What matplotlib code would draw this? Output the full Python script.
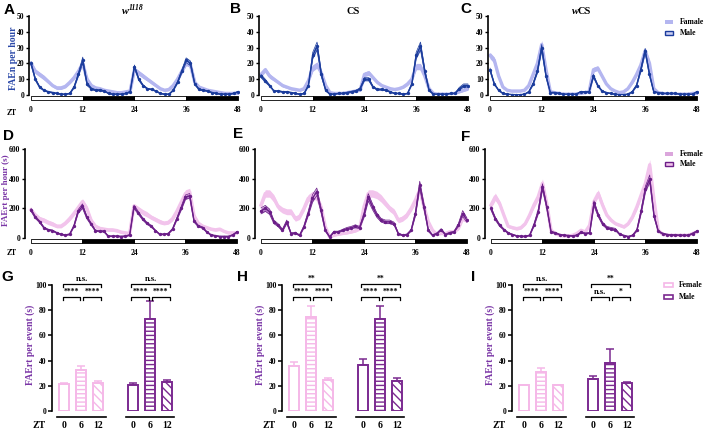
import matplotlib
matplotlib.use("Agg")
import matplotlib.pyplot as plt
from matplotlib.patches import Rectangle
import numpy as np

plt.rcParams['font.family'] = ['Liberation Serif', 'DejaVu Serif']
plt.rcParams['font.weight'] = 'bold'
plt.rcParams['hatch.linewidth'] = 1.0

# ---- data (hourly, ZT 0..48) ----
HOURS = list(range(49))
XTICKS = [0, 12, 24, 36, 48]

# FAEn per hour
A_F = [20,15,13,11,8.5,6,4.5,4.5,5.5,8,11,15,20,10,6,4.5,4,3,2.5,2,1.5,1.5,2,2.5,16,14,12,10,8,6,4,3,3.5,6,10,15,20,19,8,5,4,3,2.5,2,1.5,1,1,1,1]
A_F_SEM = [1.5,1.5,1.5,1.5,1.2,1,1,1,1,1,1.2,1.5,1.5,1.5,1,1,0.8,0.8,0.6,0.6,0.5,0.5,0.5,0.5,1.5,1.5,1.5,1.2,1.2,1,0.8,0.8,0.8,1,1.2,1.5,1.5,1.5,1.2,1,0.8,0.8,0.6,0.6,0.5,0.5,0.5,0.5,0.5]
A_M = [20,10,5,3,2,1.5,1,0.5,0.5,1,5,13,22,7,4,3,3,2.5,1,0.5,0.5,0.5,1,2,18,10,6,4,3.5,2.5,1,0.5,0.5,3,8,15,22,20,7,3.5,3,2.5,1.5,1,0.5,0.5,0.5,1,2]
A_M_SEM = [1,0.8,0.5,0.3,0.3,0.3,0.2,0.2,0.2,0.2,0.5,1,2,1,0.5,0.4,0.4,0.3,0.2,0.2,0.2,0.2,0.2,0.3,1,0.8,0.5,0.3,0.3,0.3,0.2,0.2,0.2,0.3,0.6,1,1.5,1.5,0.6,0.4,0.3,0.3,0.2,0.2,0.2,0.2,0.2,0.2,0.3]

B_F = [13,16,12,10,8,6,5,4,3.5,3,4,9,17,19,14,6,1.5,1,1,1,1.5,2,2.5,3,13,14,11,8,6,5,4,3.5,4,5,7,10,18,18,12,4,1,0.5,0.5,0.5,0.5,1,2,3,4]
B_F_SEM = [1.5,1.5,1.5,1.2,1,1,0.8,0.8,0.6,0.6,0.8,1.2,2,2,1.5,1,0.4,0.3,0.3,0.3,0.4,0.5,0.5,0.6,1.5,1.5,1.2,1,0.8,0.8,0.6,0.6,0.6,0.8,1,1.2,2,2,1.5,0.6,0.3,0.2,0.2,0.2,0.2,0.3,0.6,0.8,1]
B_M = [12,9,6,2.5,2.5,2,2,1.5,1,0.5,1,6,25,31,13,3,0.5,0.5,1,1,1.5,2,2.5,4,10,10,5,3.5,3.5,3,2,1,1,0.5,1,7,25,31,15,3,0.5,0.5,0.5,0.5,1,1,4,6,6]
B_M_SEM = [1,1,0.5,0.3,0.3,0.3,0.3,0.2,0.2,0.2,0.2,0.5,2,2.5,1.5,0.5,0.2,0.2,0.2,0.2,0.3,0.4,0.5,0.6,1,1,0.5,0.4,0.4,0.3,0.3,0.2,0.2,0.2,0.2,0.6,2,2.5,1.5,0.5,0.2,0.2,0.2,0.2,0.2,0.2,0.8,1,1]

C_F = [25,22,12,5,3,2.5,2.5,2.5,3,6,13,20,32,16,2,1.5,1,0.5,0.5,0.5,0.5,1,1.5,2,16,17,12,7,4,2.5,1.5,2,4,8,13,19,28,20,4,1.5,1,0.5,0.5,0.5,0.5,0.5,0.5,1,1]
C_F_SEM = [2,2,1.5,1,0.6,0.5,0.5,0.5,0.6,1,1.5,2,2.5,2,0.5,0.3,0.2,0.2,0.2,0.2,0.2,0.3,0.3,0.5,1.5,1.5,1.2,1,0.6,0.5,0.4,0.5,0.6,1,1.5,2,2,2,0.6,0.3,0.2,0.2,0.2,0.2,0.2,0.2,0.2,0.2,0.3]
C_M = [16,7,3,1,0.5,0.3,0.2,0.2,0.5,2,7,15,30,12,1.5,1.5,1,0.5,0.5,0.5,0.5,2,2,2,12,6,2.5,1.5,1,0.5,0.2,0.3,0.5,2,6,16,28,13,2,1.5,1,1,1,1,0.5,0.5,0.5,0.5,2]
C_M_SEM = [1,0.5,0.3,0.2,0.1,0.1,0.1,0.1,0.1,0.3,0.6,1,2,1,0.3,0.3,0.2,0.1,0.1,0.1,0.1,0.3,0.3,0.3,1,0.6,0.3,0.2,0.2,0.1,0.1,0.1,0.1,0.3,0.6,1,1.5,1,0.3,0.2,0.2,0.2,0.2,0.2,0.1,0.1,0.1,0.1,0.3]

# FAErt per hour (s)
D_F = [190,155,130,120,105,95,80,80,100,130,165,205,245,200,120,80,65,60,55,55,50,40,35,30,215,195,175,160,140,125,110,100,105,130,180,240,300,310,150,100,80,70,60,55,60,45,35,35,35]
D_F_SEM = [15,15,15,15,15,15,12,12,12,15,15,18,20,20,15,12,12,10,10,10,10,10,8,8,18,18,18,18,15,15,15,12,12,15,18,20,25,25,18,12,12,10,10,10,10,8,8,8,8]
D_M = [190,140,110,70,55,50,35,25,20,25,80,180,215,140,95,50,45,45,12,12,12,10,12,20,210,170,130,100,80,50,25,25,30,60,130,200,275,285,115,80,70,40,20,15,10,10,10,20,40]
D_M_SEM = [10,8,7,5,4,4,3,3,3,3,6,12,15,10,8,5,4,4,3,3,3,3,3,3,12,10,8,7,6,4,3,3,3,5,8,12,15,15,8,6,5,4,3,3,3,3,3,3,4]

E_F = [222,300,300,267,210,188,177,177,131,143,199,267,290,278,210,75,7,18,25,30,34,41,48,63,210,300,300,290,267,233,199,177,120,131,154,199,256,324,210,109,52,25,30,30,41,41,63,131,120]
E_F_SEM = [25,25,25,25,20,20,20,20,18,18,20,25,25,25,20,10,3,5,6,6,6,8,8,10,20,25,25,25,25,22,20,20,18,18,18,20,25,25,20,15,8,5,5,5,6,6,8,15,15]
E_M = [183,200,177,109,86,52,109,30,34,18,75,165,267,312,188,52,7,41,41,52,63,70,79,70,154,274,210,154,120,109,109,97,30,18,23,52,165,358,210,52,18,30,57,23,34,41,86,165,120]
E_M_SEM = [20,20,18,12,10,8,12,5,5,4,8,15,25,25,18,8,3,5,5,6,8,8,10,8,15,25,20,15,12,12,12,10,5,4,4,6,15,25,20,8,4,5,6,4,5,5,10,20,15]

F_F = [222,278,233,154,79,70,63,70,97,154,222,278,369,233,52,30,18,14,14,18,30,52,41,86,245,300,222,154,120,97,86,75,97,143,210,290,369,494,256,52,25,20,18,18,18,18,18,30,41]
F_F_SEM = [20,25,20,15,10,10,10,10,10,15,20,25,30,20,8,5,4,3,3,4,5,8,6,10,20,25,20,15,12,10,10,10,10,15,20,25,30,35,25,8,5,4,4,4,4,4,4,5,6]
F_M = [199,131,86,57,34,23,14,11,11,18,86,177,346,210,41,34,23,18,16,14,18,38,30,34,233,154,97,70,63,57,25,16,9,18,52,180,330,400,150,45,30,23,20,20,18,18,18,30,45]
F_M_SEM = [12,10,8,5,4,3,3,3,3,3,8,15,20,15,5,4,3,3,3,3,3,5,4,4,18,12,10,8,8,8,4,3,3,3,6,15,20,25,12,5,4,3,3,3,3,3,3,4,5]

# FAErt per event (s), ZT 0 / 6 / 12
ZT_LABELS = ['0', '6', '12']
G_F = [21.2, 32.5, 22.6]; G_F_ERR = [1.3, 3.5, 1.4]
G_M = [21.0, 72.7, 23.3]; G_M_ERR = [1.5, 14.5, 1.7]
H_F = [35.6, 74.3, 24.7]; H_F_ERR = [3.4, 8.7, 1.5]
H_M = [36.9, 72.7, 23.9]; H_M_ERR = [4.1, 10.3, 2.1]
I_F = [20.3, 30.9, 20.3]; I_F_ERR = [0.7, 3.4, 0.5]
I_M = [25.5, 37.7, 22.0]; I_M_ERR = [2.3, 11.9, 0.9]
# significance: [ZT0 vs ZT12, ZT0 vs ZT6, ZT6 vs ZT12]
G_SIG_F = ['n.s.', '****', '****']; G_SIG_M = ['n.s.', '****', '****']
H_SIG_F = ['**', '****', '****'];   H_SIG_M = ['**', '****', '****']
I_SIG_F = ['n.s.', '****', '****']; I_SIG_M = ['**', 'n.s.', '*']

# ---- colours ----
FEM_BLUE = '#b4b6f0'
MALE_BLUE = '#1b3c9c'
MALE_BLUE_BAND = '#7d90d4'
FEM_PINK = '#f2c4ec'
MALE_PURPLE = '#6b1e88'
MALE_PURPLE_BAND = '#b784c9'
BAR_F = '#f5b8e8'
BAR_M = '#7b2a90'
YL_BLUE = '#2a48a8'
YL_PURPLE = '#7a35a6'

W, H = 708, 430
fig = plt.figure(figsize=(W / 100, H / 100), dpi=100)


def add_ax(x0, x1, ytop, ybot):
    return fig.add_axes([x0 / W, 1 - ybot / H, (x1 - x0) / W, (ybot - ytop) / H])


def ftext(x, y, s, **kw):
    fig.text(x / W, 1 - y / H, s, **kw)


def fpatch(x, y, w, h, **kw):
    fig.add_artist(Rectangle((x / W, 1 - (y + h) / H), w / W, h / H,
                             transform=fig.transFigure, **kw))


def ts_panel(ax, f, fsem, m, msem, ymax, yticks, fcol, mcol, mband, xl):
    x = np.array(HOURS)
    f, fsem, m, msem = map(np.array, (f, fsem, m, msem))
    ax.fill_between(x, f - fsem, f + fsem, color=fcol, lw=0)
    ax.plot(x, f, color=fcol, lw=2.4, solid_joinstyle='round')
    ax.fill_between(x, m - msem, m + msem, color=mband, lw=0)
    ax.plot(x, m - msem, color=mcol, lw=0.5)
    ax.plot(x, m + msem, color=mcol, lw=0.5)
    ax.plot(x, m, color=mcol, lw=1.0, marker='o', ms=1.4)
    ax.set_xlim(xl, 48.2)
    ax.set_ylim(0, ymax)
    ax.set_yticks(yticks)
    for s in ('top', 'right', 'bottom'):
        ax.spines[s].set_visible(False)
    ax.spines['left'].set_linewidth(1.2)
    ax.tick_params(axis='y', length=2.5, width=1, labelsize=5.5, pad=1)
    ax.set_xticks(XTICKS)
    ax.tick_params(axis='x', length=0, labelsize=5.5, pad=8)
    tr = ax.get_xaxis_transform()
    ax.broken_barh([(0, 12), (24, 12)], (-0.06, 0.045), facecolors='white',
                   edgecolors='black', lw=0.6, transform=tr, clip_on=False)
    ax.broken_barh([(12, 12), (36, 12)], (-0.06, 0.045), facecolors='black',
                   edgecolors='black', lw=0.6, transform=tr, clip_on=False)


def bracket(ax, x1, x2, y, label, fs):
    ax.plot([x1, x1, x2, x2], [y - 2.5, y, y, y - 2.5], color='black', lw=0.9,
            clip_on=False)
    ax.text((x1 + x2) / 2, y + 0.6, label, ha='center', va='bottom',
            fontsize=fs, clip_on=False)


def bar_panel(ax, fv, fe, mv, me, sig_f, sig_m):
    groups = [([0, 1, 2], fv, fe, BAR_F, sig_f), ([4, 5, 6], mv, me, BAR_M, sig_m)]
    hatches = ['', '----', '\\\\\\\\']
    for pos, vals, errs, col, sig in groups:
        for p, v, h in zip(pos, vals, hatches):
            ax.bar(p, v, width=0.58, facecolor='white', edgecolor=col, lw=1.4,
                   hatch=h, zorder=2)
        ax.errorbar(pos, vals, yerr=[[0, 0, 0], errs], fmt='none', ecolor=col,
                    elinewidth=1.1, capsize=3, capthick=1.1, zorder=1)
        p0, p1, p2 = pos
        bracket(ax, p0 - 0.08, p2 + 0.16, 100.8, sig[0], 6 if sig[0] == 'n.s.' else 5.5)
        bracket(ax, p0 - 0.08, p1 - 0.08, 90.8, sig[1], 6 if sig[1] == 'n.s.' else 5.5)
        bracket(ax, p1 + 0.1, p2 + 0.16, 90.8, sig[2], 6 if sig[2] == 'n.s.' else 5.5)
        tr = ax.get_xaxis_transform()
        ax.plot([p0 - 0.42, p2 + 0.42], [-0.048, -0.048], color='black', lw=1.2,
                transform=tr, clip_on=False)
    ax.set_xlim(-0.7, 6.7)
    ax.set_ylim(0, 100)
    ax.set_yticks([0, 20, 40, 60, 80, 100])
    ax.set_xticks([0, 1, 2, 4, 5, 6])
    ax.set_xticklabels(ZT_LABELS * 2)
    for s in ('top', 'right', 'bottom'):
        ax.spines[s].set_visible(False)
    ax.spines['left'].set_linewidth(1.2)
    ax.tick_params(axis='y', length=3, width=1.1, labelsize=5.5, pad=1)
    ax.tick_params(axis='x', length=0, labelsize=7, pad=7)


# ---- row 1: FAEn per hour ----
row1 = [(31, A_F, A_F_SEM, A_M, A_M_SEM), (261, B_F, B_F_SEM, B_M, B_M_SEM),
        (490, C_F, C_F_SEM, C_M, C_M_SEM)]
for x0, f, fs, m, ms in row1:
    ax = add_ax(x0 - 0.35 * 4.31, x0 + 48.2 * 4.31, 16, 95)
    ts_panel(ax, f, fs, m, ms, 50, [0, 10, 20, 30, 40, 50], FEM_BLUE, MALE_BLUE,
             MALE_BLUE_BAND, -0.35)

# ---- row 2: FAErt per hour ----
row2 = [(31, D_F, D_F_SEM, D_M, D_M_SEM), (261, E_F, E_F_SEM, E_M, E_M_SEM),
        (491, F_F, F_F_SEM, F_M, F_M_SEM)]
for x0, f, fs, m, ms in row2:
    ax = add_ax(x0 - 1.4 * 4.29, x0 + 48.2 * 4.29, 149, 238)
    ts_panel(ax, f, fs, m, ms, 600, [0, 200, 400, 600], FEM_PINK, MALE_PURPLE,
             MALE_PURPLE_BAND, -1.4)

# ---- row 3: FAErt per event ----
row3 = [(52, G_F, G_F_ERR, G_M, G_M_ERR, G_SIG_F, G_SIG_M),
        (282, H_F, H_F_ERR, H_M, H_M_ERR, H_SIG_F, H_SIG_M),
        (512, I_F, I_F_ERR, I_M, I_M_ERR, I_SIG_F, I_SIG_M)]
for x0, fv, fe, mv, me, sf, sm in row3:
    ax = add_ax(x0, x0 + 7.4 * 17.2, 285, 411)
    bar_panel(ax, fv, fe, mv, me, sf, sm)
    ftext(x0 - 13, 425, 'ZT', fontsize=7, ha='center', va='center')
    ftext(x0 - 22, 345, 'FAErt per event (s)', fontsize=7, color=YL_PURPLE,
          rotation=90, ha='center', va='center')

# ---- labels ----
ftext(12, 113, 'ZT', fontsize=5.5, ha='center', va='center')
ftext(12, 253, 'ZT', fontsize=5.5, ha='center', va='center')
ftext(14, 58, 'FAEn per hour', fontsize=7, color=YL_BLUE, rotation=90,
      ha='center', va='center')
ftext(6, 190, 'FAErt per hour (s)', fontsize=6.5, color=YL_PURPLE, rotation=90,
      ha='center', va='center')

# titles
ftext(125, 11, 'w', fontsize=7.5, style='italic', ha='center', va='center')
ftext(128.5, 7.5, '1118', fontsize=5.5, style='italic', ha='left', va='center')
ftext(353, 11, 'CS', fontsize=7.5, ha='center', va='center')
ftext(575, 11, 'w', fontsize=7.5, style='italic', ha='center', va='center')
ftext(578, 11, 'CS', fontsize=7.5, ha='left', va='center')

for letter, x, y in [('A', 9, 10), ('B', 235, 9), ('C', 466, 9),
                     ('D', 8, 136), ('E', 238, 134), ('F', 466, 137),
                     ('G', 7, 277), ('H', 242, 277), ('I', 473, 277)]:
    ftext(x, y, letter, fontsize=11, family='Liberation Sans', weight='bold',
          ha='center', va='center')

# ---- legends ----
fpatch(665, 20, 8, 4, facecolor=FEM_BLUE, edgecolor='none')
ftext(680, 22, 'Famale', fontsize=5.5, va='center')
fpatch(665, 31, 8, 4, facecolor='#c9cdf2', edgecolor=MALE_BLUE, lw=1)
ftext(680, 33, 'Male', fontsize=5.5, va='center')

fpatch(665, 151.5, 8, 4, facecolor='#dba6dc', edgecolor='none')
ftext(680, 153.5, 'Female', fontsize=5.5, va='center')
fpatch(665, 162, 8, 4, facecolor='#f2c4ec', edgecolor=MALE_PURPLE, lw=1)
ftext(680, 164, 'Male', fontsize=5.5, va='center')

fpatch(664, 283, 8.5, 4, facecolor='white', edgecolor=BAR_F, lw=1.2)
ftext(679, 285, 'Female', fontsize=5.5, va='center')
fpatch(664, 295.3, 8.5, 4, facecolor='white', edgecolor=BAR_M, lw=1.2)
ftext(679, 297.3, 'Male', fontsize=5.5, va='center')

fig.savefig('out.png', dpi=100)
